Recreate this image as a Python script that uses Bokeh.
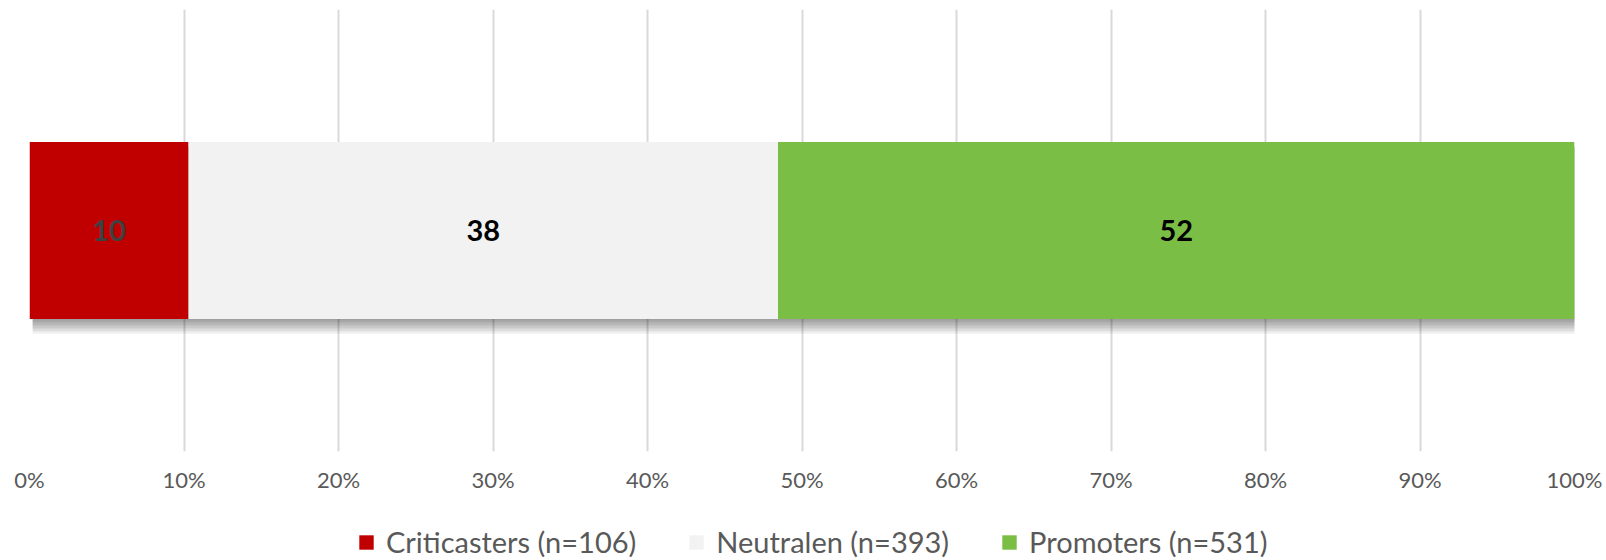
from bokeh.plotting import figure
from bokeh.layouts import column
from bokeh.models import Range1d, FixedTicker, Legend, LegendItem, ColumnDataSource
from bokeh.embed import file_html
from bokeh.resources import INLINE
from bokeh.core.properties import value

# ---- data ----
categories = ["Criticasters (n=106)", "Neutralen (n=393)", "Promoters (n=531)"]
counts = [106, 393, 531]
tick_values = [0, 10, 20, 30, 40, 50, 60, 70, 80, 90, 100]
tick_labels = ["0%", "10%", "20%", "30%", "40%", "50%", "60%", "70%", "80%", "90%", "100%"]

# ---- styles ----
bar_colors = ["#C00000", "#F2F2F2", "#7BBE46"]
label_colors = ["#404040", "#000000", "#000000"]
FONT = "Lato"

total = sum(counts)
pct = [c / total * 100 for c in counts]
starts = []
acc = 0.0
for v in pct:
    starts.append(acc)
    acc += v
ends = [s + v for s, v in zip(starts, pct)]

W = 1606
H_MAIN = 506
H_LEG = 54

p = figure(width=W, height=H_MAIN, x_range=Range1d(0, 100), y_range=Range1d(0, 1),
           output_backend="svg", toolbar_location=None,
           min_border_left=29, min_border_right=32, min_border_top=9, min_border_bottom=55,
           outline_line_color=None, background_fill_color="white", border_fill_color="white")

# soft shadow below the bar
bar_h = 0.40
for k in range(1, 11):
    p.quad(left=[starts[0] + 0.2], right=[ends[-1] + 0.2],
           top=[0.5 + bar_h / 2 - 0.01], bottom=[0.5 - bar_h / 2 - 0.0034 * k],
           fill_color="black", fill_alpha=0.045, line_color=None)

for i, cat in enumerate(categories):
    src = ColumnDataSource(dict(y=[0.5], left=[starts[i]], right=[ends[i]]))
    p.hbar(y="y", left="left", right="right", height=bar_h, source=src,
           fill_color=bar_colors[i], line_color=None)

lab_src = ColumnDataSource(dict(
    x=[s + v / 2 for s, v in zip(starts, pct)],
    y=[0.5] * len(pct),
    text=[str(round(v)) for v in pct],
    color=label_colors,
))
p.text(x="x", y="y", text="text", source=lab_src, text_color="color",
       text_font=value(FONT), text_font_style="bold", text_font_size=value("29px"),
       text_align="center", text_baseline="middle")

# axes / grid
p.yaxis.visible = False
p.ygrid.visible = False
p.xgrid.grid_line_color = "#D9D9D9"
p.xgrid.grid_line_width = 2
ax = p.xaxis[0]
ax.ticker = FixedTicker(ticks=tick_values)
ax.major_label_overrides = {t: l for t, l in zip(tick_values, tick_labels)}
ax.axis_line_color = None
ax.major_tick_line_color = None
ax.minor_tick_line_color = None
ax.major_tick_out = 0
ax.major_tick_in = 0
ax.major_label_standoff = 14
ax.major_label_text_font = FONT
ax.major_label_text_font_size = "22px"
ax.major_label_text_color = "#595959"

# ---- legend strip (separate figure so the legend can sit at the very bottom) ----
lg = figure(width=W, height=H_LEG, x_range=Range1d(0, 100), y_range=Range1d(0, 1),
            output_backend="svg", toolbar_location=None, min_border=0,
            outline_line_color=None, background_fill_color="white", border_fill_color="white")
lg.axis.visible = False
lg.grid.visible = False
items = []
for i, cat in enumerate(categories):
    # zero-height copies of the segments: nothing is drawn, only legend swatches show
    src = ColumnDataSource(dict(y=[0.5], left=[starts[i]], right=[ends[i]]))
    r = lg.hbar(y="y", left="left", right="right", height=0, source=src,
                fill_color=bar_colors[i], line_color=None)
    items.append(LegendItem(label=cat, renderers=[r]))

legend = Legend(items=items, orientation="horizontal", location=(328, 1),
                border_line_color=None, background_fill_alpha=0,
                padding=0, margin=0, spacing=51, label_standoff=11,
                glyph_width=18, glyph_height=18,
                label_text_font=FONT, label_text_font_size="29px",
                label_text_color="#595959")
lg.add_layout(legend, "center")

layout = column(p, lg, spacing=0)
open("out.html", "w").write(file_html(layout, INLINE))
